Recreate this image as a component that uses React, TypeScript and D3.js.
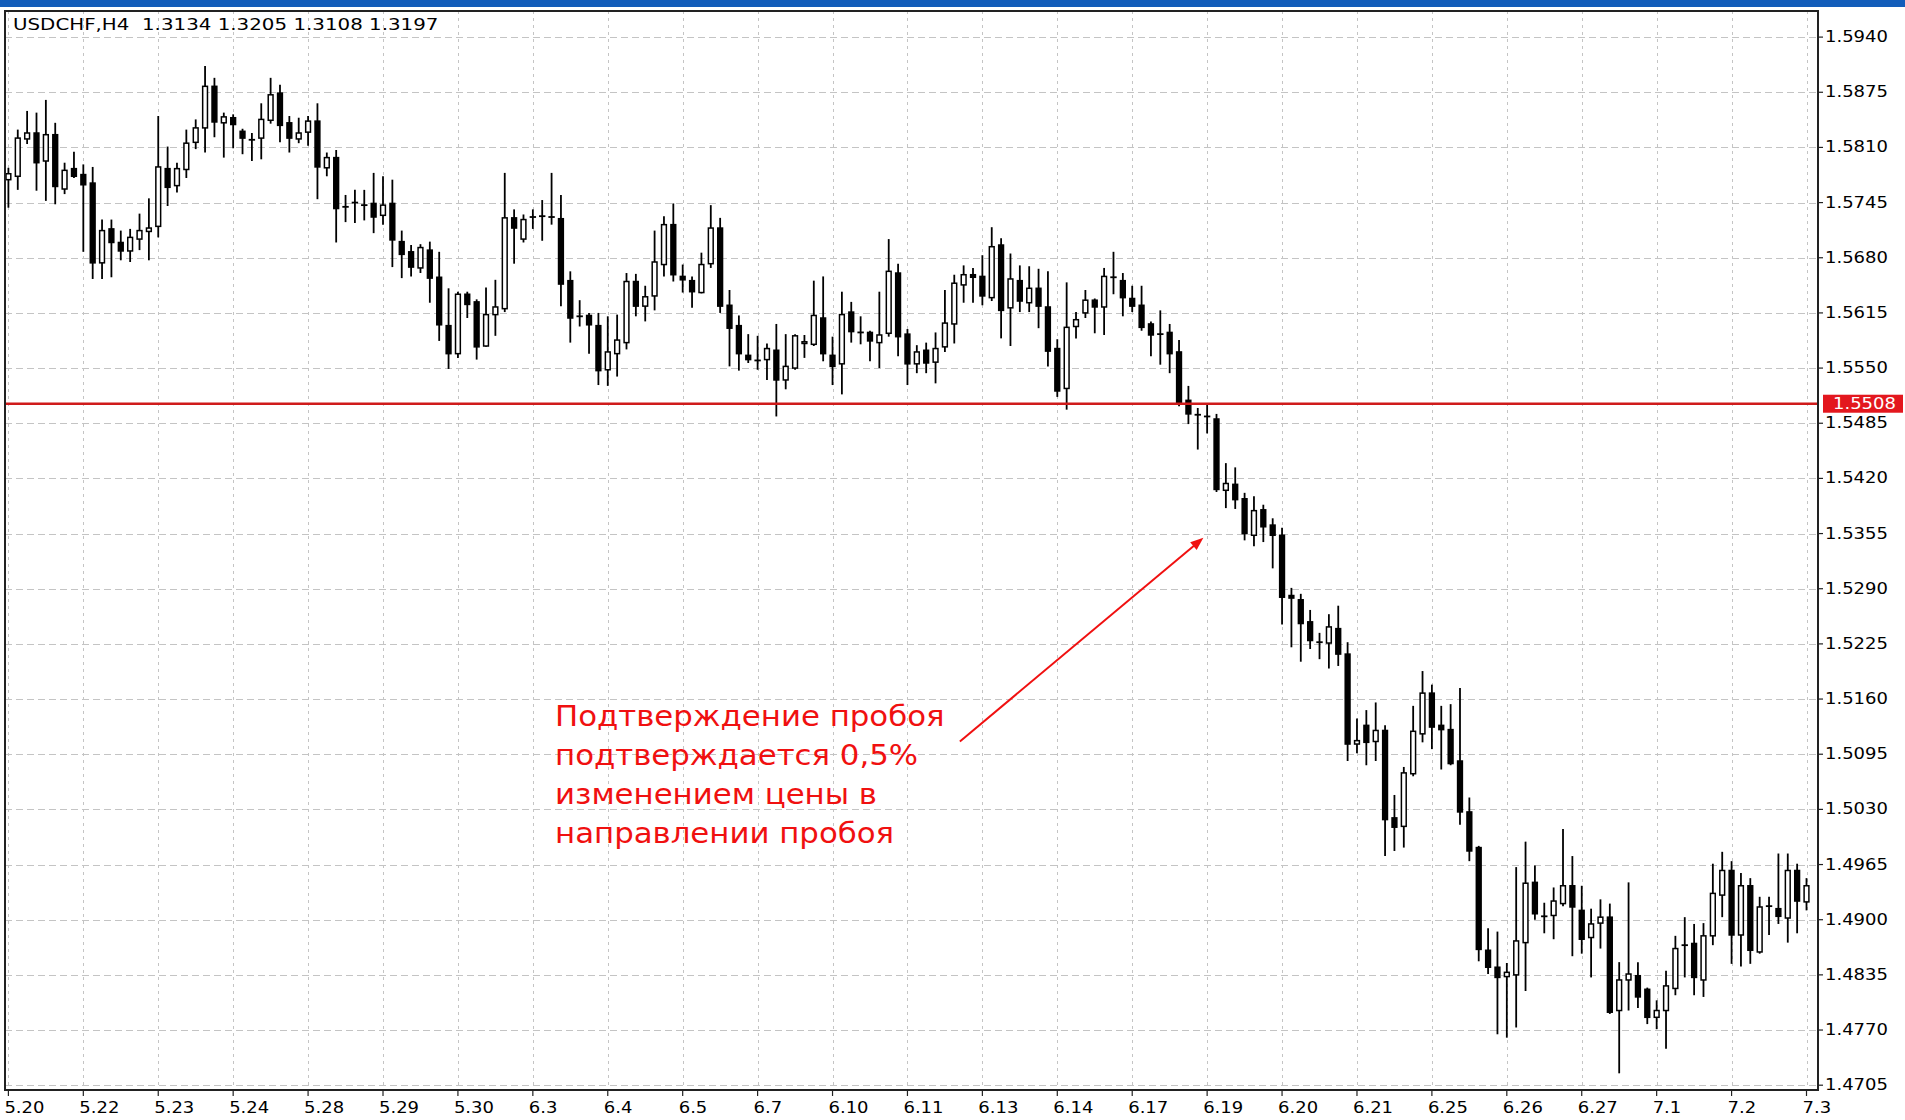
import React from "react";
import * as d3 from "d3";

const headerText = "USDCHF,H4  1.3134 1.3205 1.3108 1.3197";

const dateLabels = ["5.20", "5.22", "5.23", "5.24", "5.28", "5.29", "5.30", "6.3", "6.4", "6.5", "6.7", "6.10", "6.11",
  "6.13", "6.14", "6.17", "6.19", "6.20", "6.21", "6.25", "6.26", "6.27", "7.1", "7.2", "7.3"];
const barsPerLabel = 8;

const priceTicks = [1.5940, 1.5875, 1.5810, 1.5745, 1.5680, 1.5615, 1.5550, 1.5485, 1.5420, 1.5355,
  1.5290, 1.5225, 1.5160, 1.5095, 1.5030, 1.4965, 1.4900, 1.4835, 1.4770, 1.4705];

const levelPrice = 1.5508;

// H4 bars
const opens = [
  1.5772, 1.5776, 1.5820, 1.5827, 1.5794, 1.5825, 1.5761, 1.5785, 1.5778, 1.5768,
  1.5674, 1.5714, 1.5698, 1.5688, 1.5702, 1.5711, 1.5717, 1.5785, 1.5765, 1.5784,
  1.5816, 1.5833, 1.5882, 1.5839, 1.5845, 1.5829, 1.5820, 1.5821, 1.5842, 1.5874,
  1.5839, 1.5820, 1.5828, 1.5841, 1.5786, 1.5798, 1.5740, 1.5744, 1.5743, 1.5744,
  1.5730, 1.5744, 1.5699, 1.5687, 1.5668, 1.5689, 1.5657, 1.5600, 1.5567, 1.5637,
  1.5628, 1.5576, 1.5613, 1.5620, 1.5727, 1.5702, 1.5727, 1.5728, 1.5729, 1.5726,
  1.5653, 1.5611, 1.5612, 1.5600, 1.5548, 1.5567, 1.5580, 1.5652, 1.5623, 1.5635,
  1.5672, 1.5719, 1.5658, 1.5653, 1.5639, 1.5673, 1.5715, 1.5624, 1.5600, 1.5565,
  1.5559, 1.5560, 1.5571, 1.5536, 1.5550, 1.5579, 1.5578, 1.5609, 1.5565, 1.5555,
  1.5616, 1.5593, 1.5592, 1.5580, 1.5591, 1.5662, 1.5590, 1.5555, 1.5571, 1.5557,
  1.5575, 1.5602, 1.5648, 1.5660, 1.5658, 1.5633, 1.5695, 1.5621, 1.5653, 1.5627,
  1.5644, 1.5622, 1.5573, 1.5526, 1.5599, 1.5615, 1.5630, 1.5622, 1.5657, 1.5653,
  1.5632, 1.5624, 1.5602, 1.5591, 1.5592, 1.5569, 1.5512, 1.5496, 1.5494, 1.5490,
  1.5406, 1.5413, 1.5396, 1.5353, 1.5383, 1.5365, 1.5353, 1.5282, 1.5277, 1.5251,
  1.5228, 1.5226, 1.5243, 1.5213, 1.5107, 1.5129, 1.5110, 1.5123, 1.5020, 1.5010,
  1.5072, 1.5119, 1.5167, 1.5129, 1.5124, 1.5087, 1.5027, 1.4985, 1.4864, 1.4844,
  1.4833, 1.4835, 1.4873, 1.4944, 1.4905, 1.4905, 1.4919, 1.4940, 1.4911, 1.4879,
  1.4896, 1.4903, 1.4793, 1.4829, 1.4834, 1.4818, 1.4785, 1.4793, 1.4819, 1.4869,
  1.4872, 1.4829, 1.4881, 1.4929, 1.4958, 1.4882, 1.4940, 1.4862, 1.4916, 1.4913,
  1.4902, 1.4958, 1.4921,
];
const highs = [
  1.5786, 1.5831, 1.5853, 1.5851, 1.5866, 1.5839, 1.5792, 1.5805, 1.5790, 1.5787,
  1.5725, 1.5725, 1.5712, 1.5714, 1.5732, 1.5750, 1.5847, 1.5811, 1.5792, 1.5831,
  1.5843, 1.5906, 1.5892, 1.5851, 1.5849, 1.5832, 1.5827, 1.5862, 1.5892, 1.5884,
  1.5847, 1.5845, 1.5847, 1.5862, 1.5804, 1.5807, 1.5754, 1.5760, 1.5760, 1.5780,
  1.5776, 1.5772, 1.5712, 1.5695, 1.5696, 1.5699, 1.5687, 1.5644, 1.5640, 1.5640,
  1.5631, 1.5645, 1.5654, 1.5780, 1.5737, 1.5731, 1.5737, 1.5748, 1.5780, 1.5754,
  1.5664, 1.5630, 1.5615, 1.5615, 1.5611, 1.5613, 1.5662, 1.5661, 1.5647, 1.5712,
  1.5729, 1.5744, 1.5672, 1.5658, 1.5686, 1.5742, 1.5727, 1.5642, 1.5612, 1.5590,
  1.5588, 1.5579, 1.5602, 1.5590, 1.5590, 1.5589, 1.5653, 1.5658, 1.5587, 1.5640,
  1.5628, 1.5611, 1.5594, 1.5640, 1.5702, 1.5673, 1.5596, 1.5577, 1.5580, 1.5592,
  1.5642, 1.5660, 1.5671, 1.5668, 1.5683, 1.5716, 1.5703, 1.5685, 1.5671, 1.5670,
  1.5667, 1.5664, 1.5584, 1.5651, 1.5616, 1.5642, 1.5632, 1.5668, 1.5687, 1.5662,
  1.5647, 1.5647, 1.5605, 1.5618, 1.5602, 1.5583, 1.5529, 1.5503, 1.5508, 1.5496,
  1.5438, 1.5433, 1.5403, 1.5399, 1.5389, 1.5373, 1.5362, 1.5291, 1.5284, 1.5265,
  1.5238, 1.5260, 1.5270, 1.5227, 1.5137, 1.5147, 1.5156, 1.5129, 1.5047, 1.5080,
  1.5152, 1.5193, 1.5177, 1.5152, 1.5154, 1.5173, 1.5044, 1.4987, 1.4890, 1.4886,
  1.4849, 1.4962, 1.4992, 1.4964, 1.4920, 1.4938, 1.5007, 1.4975, 1.4940, 1.4913,
  1.4924, 1.4919, 1.4850, 1.4944, 1.4850, 1.4820, 1.4805, 1.4840, 1.4881, 1.4903,
  1.4895, 1.4896, 1.4966, 1.4980, 1.4969, 1.4955, 1.4949, 1.4927, 1.4927, 1.4978,
  1.4978, 1.4966, 1.4949,
];
const lows = [
  1.5739, 1.5760, 1.5814, 1.5759, 1.5747, 1.5743, 1.5755, 1.5774, 1.5687, 1.5655,
  1.5655, 1.5657, 1.5677, 1.5675, 1.5689, 1.5677, 1.5704, 1.5741, 1.5757, 1.5774,
  1.5808, 1.5804, 1.5822, 1.5798, 1.5809, 1.5802, 1.5794, 1.5796, 1.5838, 1.5816,
  1.5804, 1.5815, 1.5812, 1.5749, 1.5776, 1.5698, 1.5722, 1.5721, 1.5724, 1.5709,
  1.5719, 1.5669, 1.5656, 1.5658, 1.5662, 1.5627, 1.5582, 1.5549, 1.5562, 1.5609,
  1.5560, 1.5575, 1.5588, 1.5616, 1.5673, 1.5698, 1.5714, 1.5700, 1.5719, 1.5623,
  1.5580, 1.5599, 1.5567, 1.5530, 1.5529, 1.5540, 1.5572, 1.5611, 1.5605, 1.5618,
  1.5658, 1.5652, 1.5639, 1.5621, 1.5638, 1.5668, 1.5615, 1.5552, 1.5547, 1.5556,
  1.5548, 1.5536, 1.5493, 1.5525, 1.5548, 1.5562, 1.5576, 1.5558, 1.5530, 1.5519,
  1.5580, 1.5578, 1.5558, 1.5550, 1.5587, 1.5564, 1.5530, 1.5544, 1.5544, 1.5532,
  1.5569, 1.5579, 1.5627, 1.5627, 1.5624, 1.5629, 1.5585, 1.5576, 1.5616, 1.5616,
  1.5597, 1.5552, 1.5516, 1.5501, 1.5585, 1.5609, 1.5591, 1.5589, 1.5637, 1.5611,
  1.5616, 1.5594, 1.5564, 1.5554, 1.5544, 1.5505, 1.5484, 1.5454, 1.5473, 1.5404,
  1.5385, 1.5384, 1.5347, 1.5340, 1.5345, 1.5314, 1.5248, 1.5221, 1.5204, 1.5219,
  1.5207, 1.5196, 1.5199, 1.5087, 1.5096, 1.5082, 1.5087, 1.4975, 1.4981, 1.4985,
  1.5069, 1.5109, 1.5101, 1.5077, 1.5082, 1.5012, 1.4969, 1.4851, 1.4836, 1.4765,
  1.4761, 1.4773, 1.4816, 1.4900, 1.4884, 1.4877, 1.4916, 1.4857, 1.4860, 1.4832,
  1.4866, 1.4789, 1.4719, 1.4793, 1.4796, 1.4777, 1.4771, 1.4748, 1.4811, 1.4832,
  1.4811, 1.4809, 1.4870, 1.4903, 1.4848, 1.4845, 1.4848, 1.4860, 1.4882, 1.4895,
  1.4873, 1.4884, 1.4911,
];
const closes = [
  1.5779, 1.5821, 1.5827, 1.5792, 1.5825, 1.5764, 1.5783, 1.5776, 1.5766, 1.5674,
  1.5712, 1.5698, 1.5688, 1.5704, 1.5712, 1.5715, 1.5787, 1.5763, 1.5785, 1.5815,
  1.5833, 1.5882, 1.5840, 1.5846, 1.5837, 1.5821, 1.5819, 1.5843, 1.5872, 1.5836,
  1.5821, 1.5827, 1.5841, 1.5787, 1.5798, 1.5738, 1.5740, 1.5745, 1.5742, 1.5728,
  1.5742, 1.5701, 1.5684, 1.5669, 1.5692, 1.5656, 1.5601, 1.5567, 1.5637, 1.5625,
  1.5575, 1.5613, 1.5622, 1.5727, 1.5715, 1.5725, 1.5728, 1.5729, 1.5728, 1.5649,
  1.5609, 1.5611, 1.5601, 1.5547, 1.5569, 1.5583, 1.5652, 1.5623, 1.5634, 1.5675,
  1.5719, 1.5660, 1.5654, 1.5640, 1.5672, 1.5715, 1.5623, 1.5597, 1.5567, 1.5560,
  1.5559, 1.5573, 1.5536, 1.5552, 1.5588, 1.5581, 1.5612, 1.5567, 1.5552, 1.5613,
  1.5593, 1.5592, 1.5582, 1.5589, 1.5664, 1.5587, 1.5555, 1.5569, 1.5556, 1.5573,
  1.5603, 1.5650, 1.5660, 1.5657, 1.5635, 1.5693, 1.5618, 1.5655, 1.5629, 1.5644,
  1.5623, 1.5570, 1.5523, 1.5598, 1.5607, 1.5630, 1.5622, 1.5658, 1.5657, 1.5633,
  1.5623, 1.5598, 1.5589, 1.5590, 1.5567, 1.5508, 1.5496, 1.5495, 1.5493, 1.5407,
  1.5414, 1.5395, 1.5355, 1.5382, 1.5363, 1.5353, 1.5280, 1.5279, 1.5249, 1.5229,
  1.5227, 1.5245, 1.5213, 1.5107, 1.5111, 1.5109, 1.5123, 1.5018, 1.5009, 1.5073,
  1.5122, 1.5167, 1.5127, 1.5124, 1.5084, 1.5027, 1.4981, 1.4865, 1.4844, 1.4832,
  1.4838, 1.4875, 1.4943, 1.4907, 1.4904, 1.4922, 1.4940, 1.4915, 1.4877, 1.4895,
  1.4903, 1.4791, 1.4829, 1.4836, 1.4809, 1.4785, 1.4793, 1.4822, 1.4866, 1.4870,
  1.4832, 1.4881, 1.4931, 1.4958, 1.4882, 1.4940, 1.4864, 1.4915, 1.4916, 1.4904,
  1.4958, 1.4922, 1.4940,
];

const noteLines = ["Подтверждение пробоя", "подтверждается 0,5%", "изменением цены в", "направлении пробоя"];
// arrow from the note to the breakout bars, in bar index / price
const arrowFrom = [101.6, 1.5110];
const arrowTo = [127.6, 1.5350];

const font = "'DejaVu Sans', Verdana, sans-serif";
const stretch = 1.2; // the screenshot is widened a bit

const App = () => {
  const W = 1905, H = 1120;
  const left = 5, top = 11, right = 1818, bottom = 1090;

  const xScale = d3.scaleLinear().domain([0, opens.length - 1]).range([8.4, 1806.5]);
  const yScale = d3.scaleLinear().domain([1.4705, 1.5940]).range([1085.2, 37.1]);

  const bodyW = 4.8;

  const candles = opens.map((o, i) => {
    const c = closes[i];
    const x = xScale(i);
    const yO = yScale(o), yC = yScale(c);
    const up = c >= o;
    const y0 = Math.min(yO, yC), h = Math.abs(yO - yC);
    return (
      <g key={i}>
        <line x1={x} x2={x} y1={yScale(highs[i])} y2={yScale(lows[i])} stroke="#000" strokeWidth={1.8} />
        {h < 1.2 ? (
          <line x1={x - 3.2} x2={x + 3.2} y1={yC} y2={yC} stroke="#000" strokeWidth={1.8} />
        ) : (
          <rect x={x - bodyW / 2} y={y0} width={bodyW} height={h}
            fill={up ? "#fff" : "#000"} stroke="#000" strokeWidth={1.5} />
        )}
      </g>
    );
  });

  const ax = xScale(arrowFrom[0]), ay = yScale(arrowFrom[1]);
  const bx = xScale(arrowTo[0]), by = yScale(arrowTo[1]);
  const ang = Math.atan2(by - ay, bx - ax);
  const hl = 13, hw = 5;
  const head = [
    [bx, by],
    [bx - hl * Math.cos(ang) + hw * Math.sin(ang), by - hl * Math.sin(ang) - hw * Math.cos(ang)],
    [bx - hl * Math.cos(ang) - hw * Math.sin(ang), by - hl * Math.sin(ang) + hw * Math.cos(ang)],
  ].map(p => p.join(",")).join(" ");

  const levelY = yScale(levelPrice);

  return (
    <div style={{ position: "fixed", left: 0, top: 0, width: W, height: H, background: "#fff" }}>
      <svg width={W} height={H} style={{ display: "block" }}>
        <rect x={0} y={0} width={W} height={H} fill="#fff" />
        <rect x={0} y={0} width={W} height={7} fill="#135dba" />
        <defs>
          <clipPath id="plot">
            <rect x={left} y={top} width={right - left} height={bottom - top} />
          </clipPath>
        </defs>

        {/* grid */}
        <g stroke="#c4c4c4" strokeWidth={1}>
          {priceTicks.map(p => (
            <line key={p} x1={left} x2={right} y1={Math.round(yScale(p)) + 0.5} y2={Math.round(yScale(p)) + 0.5}
              strokeDasharray="7,4" />
          ))}
          {dateLabels.map((d, k) => {
            const x = Math.round(xScale(k * barsPerLabel)) + 0.5;
            return <line key={d} x1={x} x2={x} y1={top} y2={bottom} strokeDasharray="3,4" />;
          })}
        </g>

        <g clipPath="url(#plot)">
          {candles}
          <line x1={left} x2={right} y1={levelY} y2={levelY} stroke="#cf1b1b" strokeWidth={2.6} />
        </g>

        {/* frame */}
        <rect x={left} y={top} width={right - left} height={bottom - top} fill="none" stroke="#222" strokeWidth={2} />

        <text transform={`translate(13,29.5) scale(1.24,1)`} fontFamily={font} fontSize={16} fill="#000"
          style={{ whiteSpace: "pre" }}>{headerText}</text>

        {/* price axis */}
        {priceTicks.map(p => {
          const y = yScale(p);
          return (
            <g key={p}>
              <line x1={right} x2={right + 5} y1={y} y2={y} stroke="#222" strokeWidth={1.2} />
              <text transform={`translate(${right + 7},${y + 5}) scale(${stretch},1)`} fontFamily={font}
                fontSize={15} fill="#000">{p.toFixed(4)}</text>
            </g>
          );
        })}
        <rect x={right + 5} y={levelY - 9} width={W - right - 7} height={18} fill="#e3171e" />
        <text transform={`translate(${right + 15},${levelY + 5.5}) scale(${stretch},1)`} fontFamily={font}
          fontSize={15} fill="#fff">{levelPrice.toFixed(4)}</text>

        {/* time axis */}
        {dateLabels.map((d, k) => {
          const x = xScale(k * barsPerLabel);
          return (
            <g key={d}>
              <line x1={x} x2={x} y1={bottom} y2={bottom + 6} stroke="#222" strokeWidth={1.2} />
              <text transform={`translate(${x - 4},${bottom + 23}) scale(${stretch},1)`} fontFamily={font}
                fontSize={15} fill="#000">{d}</text>
            </g>
          );
        })}

        {/* note */}
        <line x1={ax} y1={ay} x2={bx - 8 * Math.cos(ang)} y2={by - 8 * Math.sin(ang)} stroke="#f01010" strokeWidth={2} />
        <polygon points={head} fill="#f01010" />
        {noteLines.map((t, k) => (
          <text key={t} transform={`translate(555,${726 + k * 39}) scale(1.1,1)`} fontFamily={font} fontSize={28}
            fill="#f01010">{t}</text>
        ))}
      </svg>
    </div>
  );
};

export default App;
